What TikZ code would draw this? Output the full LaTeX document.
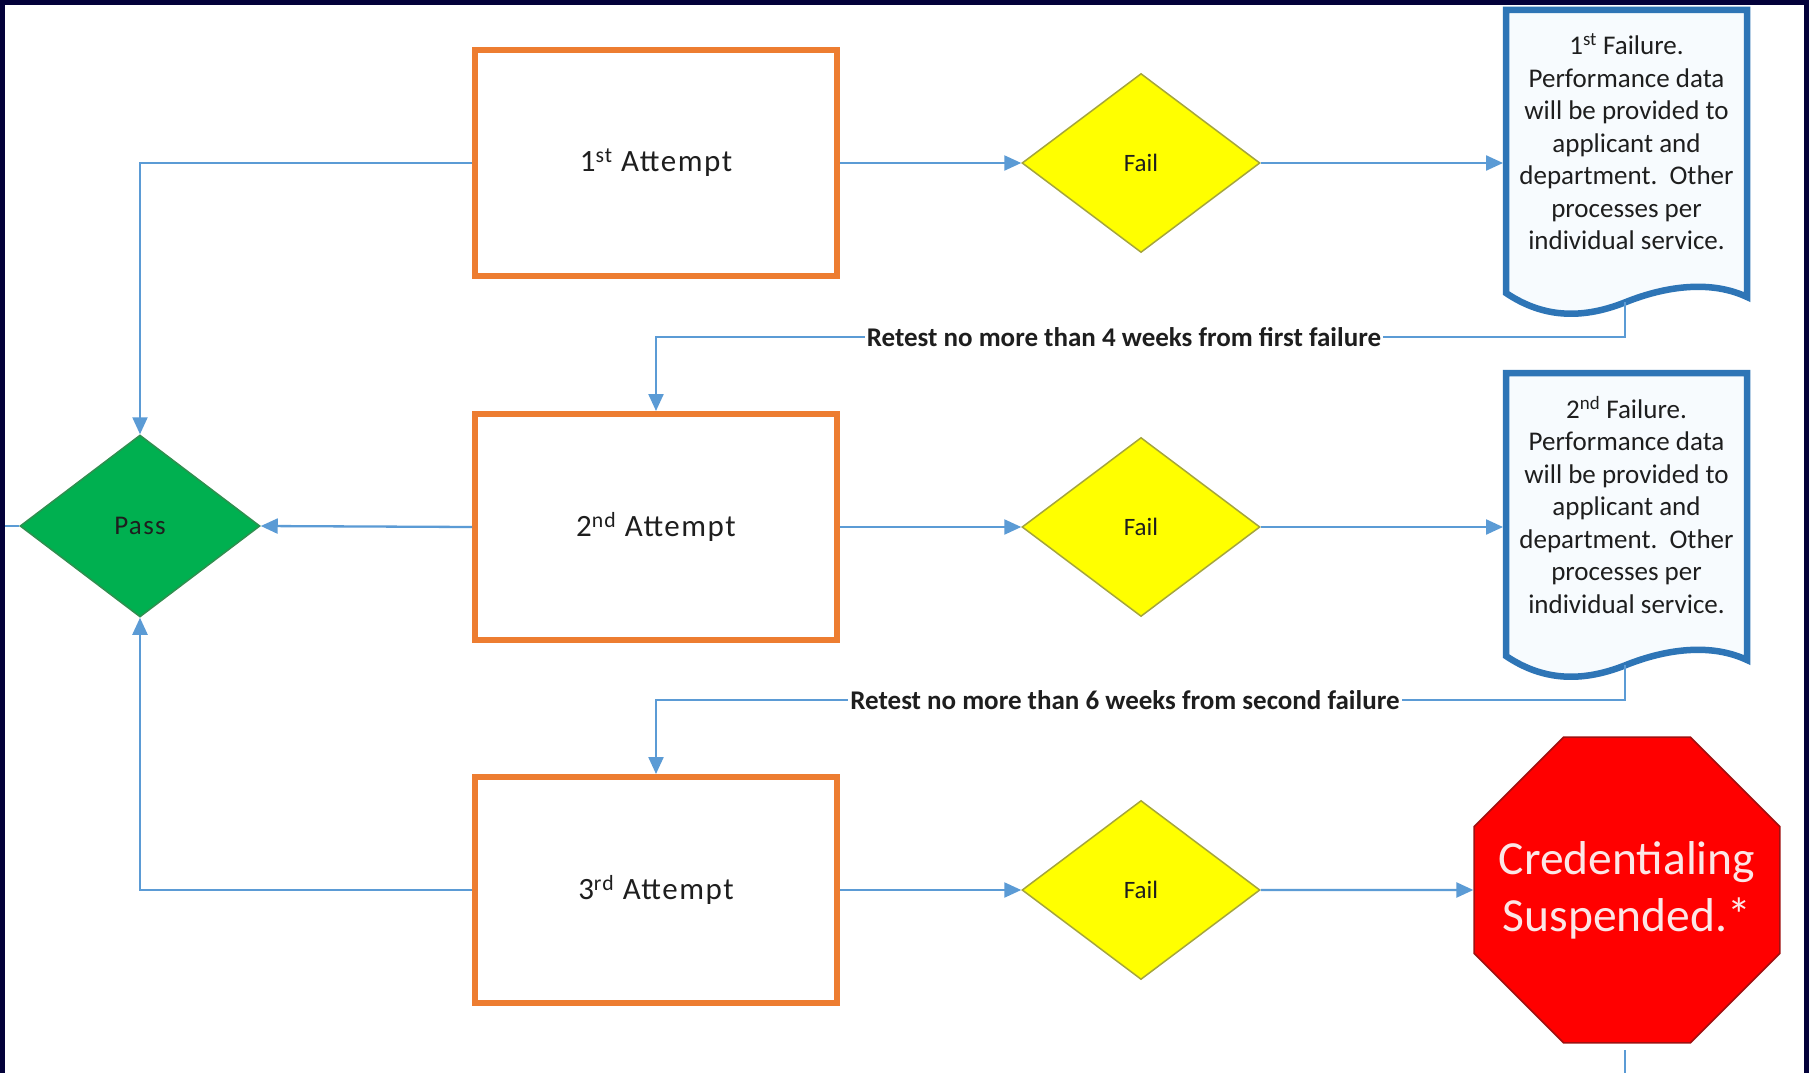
\documentclass[tikz,border=0pt]{standalone}
\usepackage{fontspec}
\setmainfont{Carlito}
\newfontfamily\spacedfont{Carlito}[LetterSpace=5]
\usetikzlibrary{arrows.meta,shapes.geometric,calc}
\definecolor{navy}{HTML}{03013A}
\definecolor{orng}{HTML}{ED7D31}
\definecolor{lblue}{HTML}{5B9BD5}
\definecolor{dblue}{HTML}{2E75B6}
\definecolor{docfill}{HTML}{F7FBFE}
\definecolor{yel}{HTML}{FFFF00}
\definecolor{yelline}{HTML}{A5A53C}
\definecolor{grn}{HTML}{00B050}
\definecolor{grnline}{HTML}{2F8F4F}
\definecolor{redfill}{HTML}{FF0000}
\definecolor{redline}{HTML}{A01010}
\definecolor{pinkw}{HTML}{FCE6E6}
\definecolor{txt}{HTML}{1E1E1E}
\pgfdeclarelayer{back}
\pgfdeclarelayer{bg}
\pgfsetlayers{back,bg,main}
\newcommand\docshape[1]{%
  \path[draw=dblue,line width=6.5pt,fill=docfill,line join=miter]
    ($(#1.north west)+(0,283)$) -- (#1.north west) -- (#1.north east)
    -- ($(#1.north west)+(241,287)$)
    .. controls ($(#1.north west)+(205,270)$) and ($(#1.north west)+(160,276)$) .. ($(#1.north west)+(120,292)$)
    .. controls ($(#1.north west)+(80,308)$) and ($(#1.north west)+(40,310)$) .. ($(#1.north west)+(0,283)$) -- cycle;}
\begin{document}
\begin{tikzpicture}[x=1pt,y=-1pt,
  attempt/.style={draw=orng,line width=6pt,fill=white,minimum width=362pt,minimum height=226pt,inner sep=0pt,font=\spacedfont\fontsize{31}{37}\selectfont,text=txt},
  faild/.style={diamond,draw=yelline,line width=1.5pt,fill=yel,minimum width=238pt,minimum height=179pt,inner sep=0pt,font=\fontsize{25}{29}\selectfont,text=txt},
  passd/.style={diamond,draw=grnline,line width=1.5pt,fill=grn,minimum width=240pt,minimum height=182pt,inner sep=0pt,font=\spacedfont\fontsize{27}{31}\selectfont,text=txt},
  docnode/.style={minimum width=241pt,minimum height=264pt,inner sep=0pt,outer sep=0pt,align=center,font=\fontsize{27}{32.5}\selectfont,text=txt},
  stopsign/.style={regular polygon,regular polygon sides=8,minimum size=331pt,inner sep=-60pt,fill=redfill,draw=redline,line width=1.5pt,align=center,text=pinkw,font=\fontsize{47.5}{57}\selectfont},
  conn/.style={draw=lblue,line width=2.3pt},
  arr/.style={conn,-{Triangle[length=17pt,width=15pt]}},
  retest/.style={fill=white,inner sep=2pt,font=\bfseries\fontsize{27}{31}\selectfont,text=txt}
]
\begin{pgfonlayer}{back}
  \fill[navy] (0,0) rectangle (1809,1073);
  \fill[white] (5,5) rectangle (1804,1073);
\end{pgfonlayer}
\useasboundingbox (0,0) rectangle (1809,1073);

% attempts
\node[attempt] (b1) at (656,163) {1\textsuperscript{st} Attempt};
\node[attempt] (b2) at (656,527) {2\textsuperscript{nd} Attempt};
\node[attempt] (b3) at (656,890) {3\textsuperscript{rd} Attempt};

% fail diamonds
\node[faild] (f1) at (1141,163) {Fail};
\node[faild] (f2) at (1141,527) {Fail};
\node[faild] (f3) at (1141,890) {Fail};

% pass
\node[passd] (pass) at (140,526) {Pass};

% documents
\node[docnode] (d1) at (1626.5,142) {1\textsuperscript{st} Failure.\\ Performance data\\ will be provided to\\ applicant and\\ department.\ \ Other\\ processes per\\ individual service.};
\node[docnode] (d2) at (1626.5,505) {2\textsuperscript{nd} Failure.\\ Performance data\\ will be provided to\\ applicant and\\ department.\ \ Other\\ processes per\\ individual service.};
\begin{pgfonlayer}{bg}
  \docshape{d1}
  \docshape{d2}
\end{pgfonlayer}

% stop sign
\node[stopsign] (stop) at (1627,890) {Credentialing\\Suspended.*};

% coordinates
\coordinate (d1in) at (1503,163);
\coordinate (d2in) at (1503,527);
\coordinate (d1b) at (1625,302);
\coordinate (d2b) at (1625,665);
\coordinate (k1) at (656,337);
\coordinate (k2) at (656,700);
\coordinate (pstub) at (5,526);
\coordinate (oo1) at (1625,1050);
\coordinate (oo2) at (1625,1073);

% connectors
\draw[arr] (b1.east) -- (f1.west);
\draw[arr] (b2.east) -- (f2.west);
\draw[arr] (b3.east) -- (f3.west);
\draw[arr] (f1.east) -- (d1in);
\draw[arr] (f2.east) -- (d2in);
\draw[arr] (f3.east) -- (stop.west);
\draw[arr] (b1.west) -| (pass.north);
\draw[arr] (b2.west) -- (pass.east);
\draw[arr] (b3.west) -| (pass.south);
\draw[conn] (pass.west) -- (pstub);
\draw[arr] (d1b) |- (k1) -- (b2.north);
\draw[arr] (d2b) |- (k2) -- (b3.north);
\draw[conn] (oo1) -- (oo2);

% labels
\node[retest] (l1) at (1124,337) {Retest no more than 4 weeks from first failure};
\node[retest] (l2) at (1125,700) {Retest no more than 6 weeks from second failure};
\end{tikzpicture}
\end{document}
